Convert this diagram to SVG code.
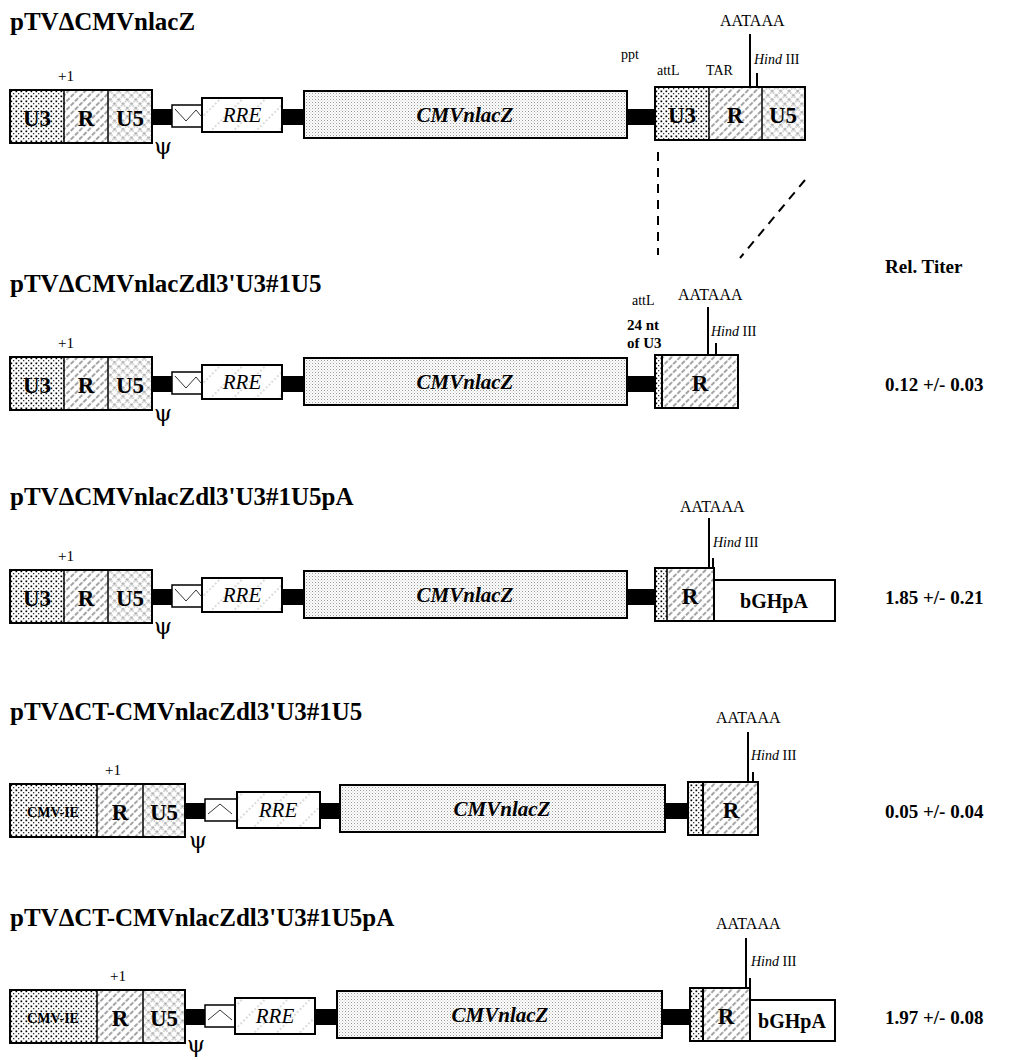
<svg xmlns="http://www.w3.org/2000/svg" width="1032" height="1060" viewBox="0 0 1032 1060">
<style>
text{font-family:"Liberation Serif","Times New Roman",serif;fill:#000}
.title{font-size:25px;font-weight:bold}
.box{font-size:23px;font-weight:bold;text-anchor:middle}
.it{font-size:21px;font-style:italic;text-anchor:middle}
.bit{font-size:21px;font-style:italic;font-weight:bold;text-anchor:middle}
.sm{font-size:15px}
.aa{font-size:16px}
.hd{font-size:14px}
.smb{font-size:15px;font-weight:bold}
.val{font-size:19px;font-weight:bold}
.psi{font-size:23px;text-anchor:middle;font-family:"DejaVu Serif",serif}
.ol{fill:none;stroke:#000;stroke-width:2}
.th{fill:none;stroke:#000;stroke-width:1.5}
.bar{fill:#000}
.wb{fill:#fff;stroke:#000;stroke-width:1.5}
.ln{stroke:#000;stroke-width:2;fill:none}
.dash{stroke:#000;stroke-width:2;stroke-dasharray:9 7;fill:none}
</style>
<defs>
<pattern id="dots" width="5" height="5" patternUnits="userSpaceOnUse"><rect width="5" height="5" fill="#fff"/><rect x="0.5" y="0.5" width="1.7" height="1.7" fill="#000"/><rect x="3" y="3" width="1.3" height="1.3" fill="#333"/></pattern>
<pattern id="hatch" width="6" height="6" patternUnits="userSpaceOnUse" patternTransform="rotate(45)"><rect width="6" height="6" fill="#fff"/><line x1="1" y1="0" x2="1" y2="6" stroke="#333" stroke-width="0.9" stroke-dasharray="3 1.5"/></pattern>
<pattern id="cross" width="6" height="6" patternUnits="userSpaceOnUse" patternTransform="rotate(45)"><rect width="6" height="6" fill="#fff"/><line x1="1" y1="0" x2="1" y2="6" stroke="#666" stroke-width="0.7" stroke-dasharray="1.5 1"/><line x1="0" y1="1" x2="6" y2="1" stroke="#666" stroke-width="0.7" stroke-dasharray="1.5 1"/></pattern>
<pattern id="stip" width="3" height="3" patternUnits="userSpaceOnUse"><rect width="3" height="3" fill="#fff"/><rect x="0" y="0" width="1" height="1" fill="#999"/><rect x="1.5" y="1.5" width="1" height="1" fill="#bbb"/></pattern>
<pattern id="sparse" width="16" height="16" patternUnits="userSpaceOnUse" patternTransform="rotate(45)"><rect width="16" height="16" fill="#fff"/><line x1="2" y1="0" x2="2" y2="16" stroke="#999" stroke-width="0.7" stroke-dasharray="2 2"/></pattern>
</defs>
<rect width="1032" height="1060" fill="#fff"/>

<text class="val" x="885" y="273">Rel. Titer</text>

<g id="c1" transform="translate(0,90)">
<text class="title" x="10" y="-60">pTVΔCMVnlacZ</text>
<text class="sm" x="66" y="-9" text-anchor="middle">+1</text>
<rect x="10" y="0" width="54" height="53" fill="url(#dots)"/>
<rect x="64" y="0" width="44" height="53" fill="url(#hatch)"/>
<rect x="108" y="0" width="44" height="53" fill="url(#cross)"/>
<rect class="ol" x="10" y="0" width="142" height="53"/>
<line class="th" x1="64" y1="0" x2="64" y2="53"/><line class="th" x1="108" y1="0" x2="108" y2="53"/>
<text class="box" x="37" y="36">U3</text><text class="box" x="86" y="36">R</text><text class="box" x="130" y="36">U5</text>
<text class="psi" x="163" y="64">ψ</text>
<rect class="bar" x="152" y="19" width="20" height="16"/>
<rect class="wb" x="172" y="15" width="30" height="22"/><polyline class="th" style="stroke-width:0.8" points="175,19 186,31 196,20 201,26"/>
<rect x="202" y="8" width="80" height="34" fill="url(#sparse)" stroke="#000" stroke-width="2"/>
<text class="it" x="242" y="32">RRE</text>
<rect class="bar" x="282" y="19" width="22" height="16"/>
<rect x="304" y="1" width="323" height="47" fill="url(#stip)" stroke="#000" stroke-width="2"/>
<text class="bit" x="465" y="32">CMVnlacZ</text>
<rect class="bar" x="627" y="19" width="28" height="16"/>
<rect x="655" y="-3" width="54" height="53" fill="url(#dots)"/>
<rect x="709" y="-3" width="53" height="53" fill="url(#hatch)"/>
<rect x="762" y="-3" width="43" height="53" fill="url(#cross)"/>
<rect class="ol" x="655" y="-3" width="150" height="53"/>
<line class="th" x1="709" y1="-3" x2="709" y2="50"/><line class="th" x1="762" y1="-3" x2="762" y2="50"/>
<text class="box" x="682" y="33">U3</text><text class="box" x="735" y="33">R</text><text class="box" x="783" y="33">U5</text>
<text class="hd" x="621" y="-31">ppt</text>
<text class="hd" x="657" y="-15">attL</text>
<text class="hd" x="706" y="-15">TAR</text>
<text class="aa" x="720" y="-64">AATAAA</text>
<line class="ln" x1="750" y1="-56" x2="750" y2="-3"/>
<line class="ln" x1="757" y1="-17" x2="757" y2="-3"/>
<text class="hd" x="754" y="-26"><tspan font-style="italic">Hind</tspan> III</text>
</g>

<g id="connectors">
<line class="dash" x1="658" y1="152" x2="658" y2="255"/>
<line class="dash" x1="805" y1="180" x2="740" y2="258"/>
</g>

<g id="c2" transform="translate(0,357)">
<text class="title" x="10" y="-65">pTVΔCMVnlacZdl3'U3#1U5</text>
<text class="sm" x="66" y="-9" text-anchor="middle">+1</text>
<rect x="10" y="0" width="54" height="53" fill="url(#dots)"/>
<rect x="64" y="0" width="44" height="53" fill="url(#hatch)"/>
<rect x="108" y="0" width="44" height="53" fill="url(#cross)"/>
<rect class="ol" x="10" y="0" width="142" height="53"/>
<line class="th" x1="64" y1="0" x2="64" y2="53"/><line class="th" x1="108" y1="0" x2="108" y2="53"/>
<text class="box" x="37" y="36">U3</text><text class="box" x="86" y="36">R</text><text class="box" x="130" y="36">U5</text>
<text class="psi" x="163" y="64">ψ</text>
<rect class="bar" x="152" y="19" width="20" height="16"/>
<rect class="wb" x="172" y="15" width="30" height="22"/><polyline class="th" style="stroke-width:0.8" points="175,19 186,31 196,20 201,26"/>
<rect x="202" y="8" width="80" height="34" fill="url(#sparse)" stroke="#000" stroke-width="2"/>
<text class="it" x="242" y="32">RRE</text>
<rect class="bar" x="282" y="19" width="22" height="16"/>
<rect x="304" y="1" width="323" height="47" fill="url(#stip)" stroke="#000" stroke-width="2"/>
<text class="bit" x="465" y="32">CMVnlacZ</text>
<rect class="bar" x="627" y="19" width="28" height="16"/>
<rect x="655" y="-2" width="7" height="53" fill="url(#dots)"/>
<rect x="662" y="-2" width="76" height="53" fill="url(#hatch)"/>
<rect class="ol" x="655" y="-2" width="83" height="53"/>
<line class="ln" x1="662" y1="-2" x2="662" y2="51"/>
<text class="box" x="700" y="34">R</text>
<text class="hd" x="632" y="-52">attL</text>
<text class="smb" x="627" y="-27">24 nt</text>
<text class="smb" x="627" y="-9">of U3</text>
<text class="aa" x="678" y="-57">AATAAA</text>
<line class="ln" x1="708" y1="-50" x2="708" y2="-2"/>
<line class="ln" x1="716" y1="-14" x2="716" y2="-2"/>
<text class="hd" x="711" y="-21"><tspan font-style="italic">Hind</tspan> III</text>
<text class="val" x="885" y="34">0.12 +/- 0.03</text>
</g>

<g id="c3" transform="translate(0,570)">
<text class="title" x="10" y="-65">pTVΔCMVnlacZdl3'U3#1U5pA</text>
<text class="sm" x="66" y="-9" text-anchor="middle">+1</text>
<rect x="10" y="0" width="54" height="53" fill="url(#dots)"/>
<rect x="64" y="0" width="44" height="53" fill="url(#hatch)"/>
<rect x="108" y="0" width="44" height="53" fill="url(#cross)"/>
<rect class="ol" x="10" y="0" width="142" height="53"/>
<line class="th" x1="64" y1="0" x2="64" y2="53"/><line class="th" x1="108" y1="0" x2="108" y2="53"/>
<text class="box" x="37" y="36">U3</text><text class="box" x="86" y="36">R</text><text class="box" x="130" y="36">U5</text>
<text class="psi" x="163" y="64">ψ</text>
<rect class="bar" x="152" y="19" width="20" height="16"/>
<rect class="wb" x="172" y="15" width="30" height="22"/><polyline class="th" style="stroke-width:0.8" points="175,19 186,31 196,20 201,26"/>
<rect x="202" y="8" width="80" height="34" fill="url(#sparse)" stroke="#000" stroke-width="2"/>
<text class="it" x="242" y="32">RRE</text>
<rect class="bar" x="282" y="19" width="22" height="16"/>
<rect x="304" y="1" width="323" height="47" fill="url(#stip)" stroke="#000" stroke-width="2"/>
<text class="bit" x="465" y="32">CMVnlacZ</text>
<rect class="bar" x="627" y="19" width="28" height="16"/>
<rect x="655" y="-2" width="12" height="53" fill="url(#dots)"/>
<rect x="667" y="-2" width="47" height="53" fill="url(#hatch)"/>
<rect class="ol" x="655" y="-2" width="59" height="53"/>
<line class="th" x1="667" y1="-2" x2="667" y2="51"/>
<text class="box" x="690" y="34">R</text>
<rect class="wb" style="stroke-width:2" x="714" y="10" width="121" height="41"/>
<text class="box" x="774" y="38" style="font-size:20px">bGHpA</text>
<text class="aa" x="680" y="-58">AATAAA</text>
<line class="ln" x1="709" y1="-52" x2="709" y2="-2"/>
<line class="ln" x1="713" y1="-12" x2="713" y2="-2"/>
<text class="hd" x="713" y="-23"><tspan font-style="italic">Hind</tspan> III</text>
<text class="val" x="885" y="34">1.85 +/- 0.21</text>
</g>

<g id="c4" transform="translate(0,784)">
<text class="title" x="10" y="-64">pTVΔCT-CMVnlacZdl3'U3#1U5</text>
<text class="sm" x="113" y="-9" text-anchor="middle">+1</text>
<rect x="10" y="0" width="87" height="53" fill="url(#dots)"/>
<rect x="97" y="0" width="46" height="53" fill="url(#hatch)"/>
<rect x="143" y="0" width="42" height="53" fill="url(#cross)"/>
<rect class="ol" x="10" y="0" width="175" height="53"/>
<line class="th" x1="97" y1="0" x2="97" y2="53"/><line class="th" x1="143" y1="0" x2="143" y2="53"/>
<text class="box" x="53" y="33" style="font-size:14px">CMV-IE</text><text class="box" x="120" y="36">R</text><text class="box" x="164" y="36">U5</text>
<text class="psi" x="198" y="64">ψ</text>
<rect class="bar" x="185" y="19" width="20" height="16"/>
<rect class="wb" x="205" y="15" width="32" height="22"/><polyline class="th" style="stroke-width:0.8" points="208,30 220,20 232,30"/>
<rect x="237" y="8" width="83" height="36" fill="url(#sparse)" stroke="#000" stroke-width="2"/>
<text class="it" x="278" y="33">RRE</text>
<rect class="bar" x="320" y="19" width="20" height="16"/>
<rect x="340" y="1" width="325" height="47" fill="url(#stip)" stroke="#000" stroke-width="2"/>
<text class="bit" x="502" y="32">CMVnlacZ</text>
<rect class="bar" x="665" y="19" width="23" height="16"/>
<rect x="688" y="-2" width="15" height="53" fill="url(#dots)"/>
<rect x="703" y="-2" width="55" height="53" fill="url(#hatch)"/>
<rect class="ol" x="688" y="-2" width="70" height="53"/>
<line class="ln" x1="703" y1="-2" x2="703" y2="51"/>
<text class="box" x="731" y="34">R</text>
<text class="aa" x="716" y="-61">AATAAA</text>
<line class="ln" x1="748" y1="-52" x2="748" y2="-2"/>
<line class="ln" x1="753" y1="-12" x2="753" y2="-2"/>
<text class="hd" x="751" y="-24"><tspan font-style="italic">Hind</tspan> III</text>
<text class="val" x="885" y="34">0.05 +/- 0.04</text>
</g>

<g id="c5" transform="translate(0,990)">
<text class="title" x="10" y="-64">pTVΔCT-CMVnlacZdl3'U3#1U5pA</text>
<text class="sm" x="118" y="-9" text-anchor="middle">+1</text>
<rect x="10" y="0" width="87" height="53" fill="url(#dots)"/>
<rect x="97" y="0" width="46" height="53" fill="url(#hatch)"/>
<rect x="143" y="0" width="42" height="53" fill="url(#cross)"/>
<rect class="ol" x="10" y="0" width="175" height="53"/>
<line class="th" x1="97" y1="0" x2="97" y2="53"/><line class="th" x1="143" y1="0" x2="143" y2="53"/>
<text class="box" x="53" y="33" style="font-size:14px">CMV-IE</text><text class="box" x="120" y="36">R</text><text class="box" x="164" y="36">U5</text>
<text class="psi" x="196" y="62">ψ</text>
<rect class="bar" x="185" y="19" width="20" height="16"/>
<rect class="wb" x="205" y="15" width="30" height="22"/><polyline class="th" style="stroke-width:0.8" points="208,30 220,20 232,30"/>
<rect x="235" y="8" width="80" height="36" fill="url(#sparse)" stroke="#000" stroke-width="2"/>
<text class="it" x="275" y="33">RRE</text>
<rect class="bar" x="315" y="19" width="22" height="16"/>
<rect x="337" y="1" width="325" height="47" fill="url(#stip)" stroke="#000" stroke-width="2"/>
<text class="bit" x="500" y="32">CMVnlacZ</text>
<rect class="bar" x="662" y="19" width="28" height="16"/>
<rect x="690" y="-2" width="13" height="53" fill="url(#dots)"/>
<rect x="703" y="-2" width="47" height="53" fill="url(#hatch)"/>
<rect class="ol" x="690" y="-2" width="60" height="53"/>
<line class="ln" x1="703" y1="-2" x2="703" y2="51"/>
<text class="box" x="726" y="34">R</text>
<rect class="wb" style="stroke-width:2" x="750" y="10" width="85" height="41"/>
<text class="box" x="792" y="38" style="font-size:20px">bGHpA</text>
<text class="aa" x="716" y="-61">AATAAA</text>
<line class="ln" x1="746" y1="-52" x2="746" y2="-2"/>
<line class="ln" x1="750" y1="-12" x2="750" y2="-2"/>
<text class="hd" x="751" y="-24"><tspan font-style="italic">Hind</tspan> III</text>
<text class="val" x="885" y="34">1.97 +/- 0.08</text>
</g>
</svg>
